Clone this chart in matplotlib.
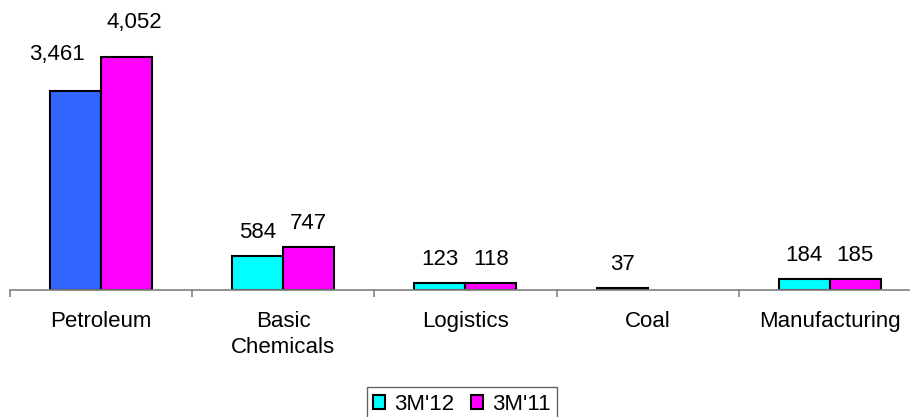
import numpy as np
import matplotlib
matplotlib.use("Agg")
import matplotlib.pyplot as plt
from matplotlib.patches import Patch

plt.rcParams['font.family'] = ['Liberation Sans', 'DejaVu Sans']

categories = ["Petroleum", "Basic\nChemicals", "Logistics", "Coal", "Manufacturing"]
series_names = ["3M'12", "3M'11"]
values_12 = [3461, 584, 123, 37, 184]
values_11 = [4052, 747, 118, np.nan, 185]

CYAN = "#00FFFF"
MAGENTA = "#FF00FF"
BLUE = "#3366FF"
FS = 16

W, H, DPI = 910, 417, 100
fig = plt.figure(figsize=(W / DPI, H / DPI), dpi=DPI)

base_px = 290
ymax = 5000
px_per_unit = 233 / 4052
ax_h = ymax * px_per_unit
ax = fig.add_axes([10 / W, (H - base_px) / H, 900 / W, ax_h / H])

x = np.arange(len(categories))
bw = 0.28
colors_12 = [BLUE, CYAN, CYAN, CYAN, CYAN]
ax.bar(x - bw / 2, values_12, bw, color=colors_12, edgecolor="black", linewidth=1.5)
ax.bar(x + bw / 2, values_11, bw, color=MAGENTA, edgecolor="black", linewidth=1.5)

# value labels above the bars
offsets_12 = [(-19, 31), (0, 18), (0, 18), (0, 18), (0, 18)]
offsets_11 = [(8, 29), (0, 18), (0, 18), (0, 18), (0, 18)]
for xs, vals, offs in ((x - bw / 2, values_12, offsets_12),
                       (x + bw / 2, values_11, offsets_11)):
    for xi, v, off in zip(xs, vals, offs):
        if np.isfinite(v):
            ax.annotate(f"{v:,.0f}", (xi, v), xytext=off, textcoords="offset pixels",
                        ha="center", va="baseline", fontsize=FS, annotation_clip=False)

for s in ["top", "right", "left"]:
    ax.spines[s].set_visible(False)
ax.spines["bottom"].set_color("#808080")
ax.spines["bottom"].set_linewidth(1.2)
ax.set_yticks([])

# tick marks between categories, labels at category centres
ax.set_xticks(np.arange(-0.5, 4.6, 1.0))
ax.set_xticklabels([])
ax.tick_params(axis="x", which="major", length=5, color="#808080", width=1.2, direction="out")
ax.set_xticks(x, minor=True)
ax.set_xticklabels(categories, minor=True, fontsize=FS, linespacing=1.35)
ax.tick_params(axis="x", which="minor", length=0, pad=15)

ax.set_xlim(-0.5, 4.44)
ax.set_ylim(0, ymax)

handles = [Patch(facecolor=CYAN, edgecolor="black", linewidth=1.5),
           Patch(facecolor=MAGENTA, edgecolor="black", linewidth=1.5)]
leg = fig.legend(handles, series_names, loc="upper center",
                 bbox_to_anchor=(462 / W, 1 - 387 / H), ncol=2, fontsize=FS,
                 frameon=True, fancybox=False, handlelength=0.55, handleheight=0.55,
                 handletextpad=0.4, columnspacing=0.75, borderpad=0.3, borderaxespad=0)
leg.get_frame().set_edgecolor("#404040")
leg.get_frame().set_linewidth(1.0)

fig.savefig("out.png", dpi=DPI)
